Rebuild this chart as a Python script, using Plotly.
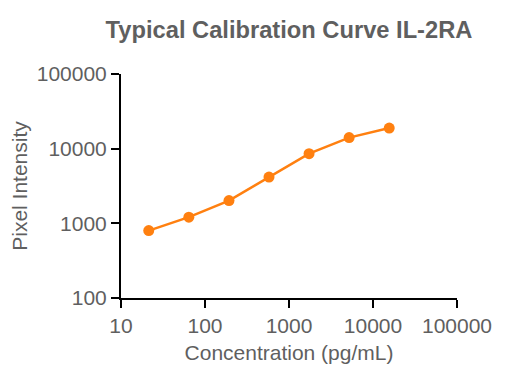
import plotly.graph_objects as go

concentration = [21.4, 64.2, 193, 578, 1733, 5200, 15600]
intensity = [800, 1210, 2020, 4160, 8570, 14060, 18900]

x_ticks = [10, 100, 1000, 10000, 100000]
x_ticktext = ["10", "100", "1000", "10000", "100000"]
y_ticks = [100, 1000, 10000, 100000]
y_ticktext = ["100", "1000", "10000", "100000"]

orange = "#FF8010"
gray = "#5F5F5F"
font_family = "Liberation Sans, Arial"

fig = go.Figure()
fig.add_trace(go.Scatter(
    x=concentration, y=intensity, mode="lines+markers",
    line=dict(color=orange, width=2.5),
    marker=dict(color=orange, size=11),
    showlegend=False,
))

axis_common = dict(
    showgrid=False, zeroline=False, showline=True, linecolor="black", linewidth=2,
    ticks="outside", ticklen=8, tickwidth=2, tickcolor="black",
    tickfont=dict(family=font_family, size=21, color=gray),
    automargin=False,
)
fig.update_xaxes(type="log", range=[1, 5], tickvals=x_ticks, ticktext=x_ticktext,
                 title=dict(text="Concentration (pg/mL)", font=dict(family=font_family, size=21, color=gray), standoff=9),
                 **axis_common)
fig.update_yaxes(type="log", range=[2, 5], tickvals=y_ticks, ticktext=y_ticktext,
                 title=dict(text="Pixel Intensity", font=dict(family=font_family, size=21, color=gray), standoff=12),
                 **axis_common)

fig.update_layout(
    width=510, height=382,
    margin=dict(l=113, r=61, t=66, b=92),
    paper_bgcolor="white", plot_bgcolor="white",
    title=dict(text="<b>Typical Calibration Curve IL-2RA</b>", x=0.5, xref="paper",
               y=1 - 22 / 382, yanchor="middle",
               font=dict(family=font_family, size=23.7, color=gray)),
)

fig.write_html("out.html")
